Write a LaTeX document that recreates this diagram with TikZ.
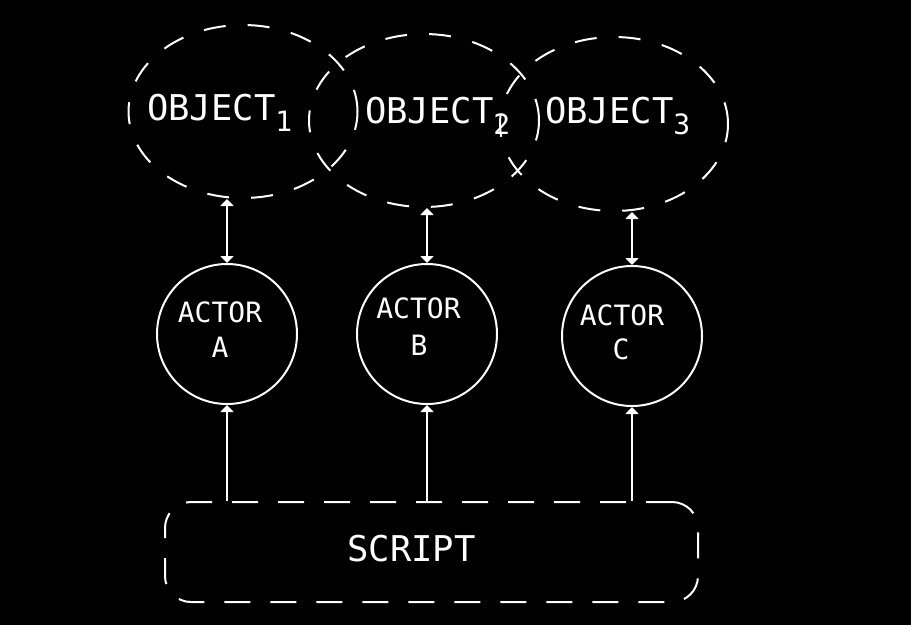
\documentclass[tikz,border=0pt]{standalone}
\usepackage{fontspec}
\newfontfamily\pix{DejaVu Sans Mono}
\usetikzlibrary{shapes.geometric,arrows.meta}
\tikzset{
  ln/.style={draw=white, line width=2pt},
  objell/.style={ln, ellipse, inner sep=0pt, dash pattern=on 22pt off 22pt},
  actor/.style={ln, circle, minimum size=140pt, inner sep=0pt},
  scriptbox/.style={ln, rectangle, rounded corners=26pt, minimum width=533pt, minimum height=100pt, inner sep=0pt, dash pattern=on 26pt off 20pt},
  bigtxt/.style={text=white, inner sep=0pt, anchor=base west, font=\pix\fontsize{35.5}{35.5}\selectfont},
  actortxt/.style={text=white, inner sep=0pt, anchor=base, font=\pix\fontsize{28}{28}\selectfont},
  conn/.style={draw=white, line width=2pt, -{Triangle[width=13pt,length=7pt]}},
  dconn/.style={draw=white, line width=2pt, {Triangle[width=13pt,length=7pt]}-{Triangle[width=13pt,length=7pt]}}
}
\newcommand{\subdig}[1]{\raisebox{-11pt}{\fontsize{28}{28}\selectfont #1}}
\begin{document}
\begin{tikzpicture}[x=1pt,y=-1pt]
\fill[black] (0,0) rectangle (911,625);
\useasboundingbox (0,0) rectangle (911,625);
% objects
\node[objell, minimum width=229pt, minimum height=173pt] (e1) at (243,111.5) {};
\node[objell, minimum width=230pt, minimum height=173pt] (e2) at (424,120.5) {};
\node[objell, minimum width=228pt, minimum height=174pt] (e3) at (614,124) {};
\node[bigtxt] (t1) at (147,120) {OBJECT\subdig{1}};
\node[bigtxt] (t2) at (365,123) {OBJECT\subdig{2}};
\node[bigtxt] (t3) at (545,123) {OBJECT\subdig{3}};
% actors
\node[actor] (a) at (227,334) {};
\node[actor] (b) at (427,334) {};
\node[actor] (c) at (632,336) {};
\node[actortxt] (la1) at (220,322) {ACTOR};
\node[actortxt] (la2) at (220,357) {A};
\node[actortxt] (lb1) at (418.5,318) {ACTOR};
\node[actortxt] (lb2) at (419,355) {B};
\node[actortxt] (lc1) at (622,325) {ACTOR};
\node[actortxt] (lc2) at (621,359) {C};
% script
\node[scriptbox] (s) at (431.5,552) {};
\node[bigtxt, anchor=base] (st) at (411.5,561) {SCRIPT};
% connectors
\draw[dconn] (a.north) -- (a.north |- e1.south);
\draw[dconn] (b.north) -- (b.north |- e2.south);
\draw[dconn] (c.north) -- (c.north |- e3.south);
\draw[conn] (a.south |- s.north) -- (a.south);
\draw[conn] (b.south |- s.north) -- (b.south);
\draw[conn] (c.south |- s.north) -- (c.south);
\end{tikzpicture}
\end{document}
